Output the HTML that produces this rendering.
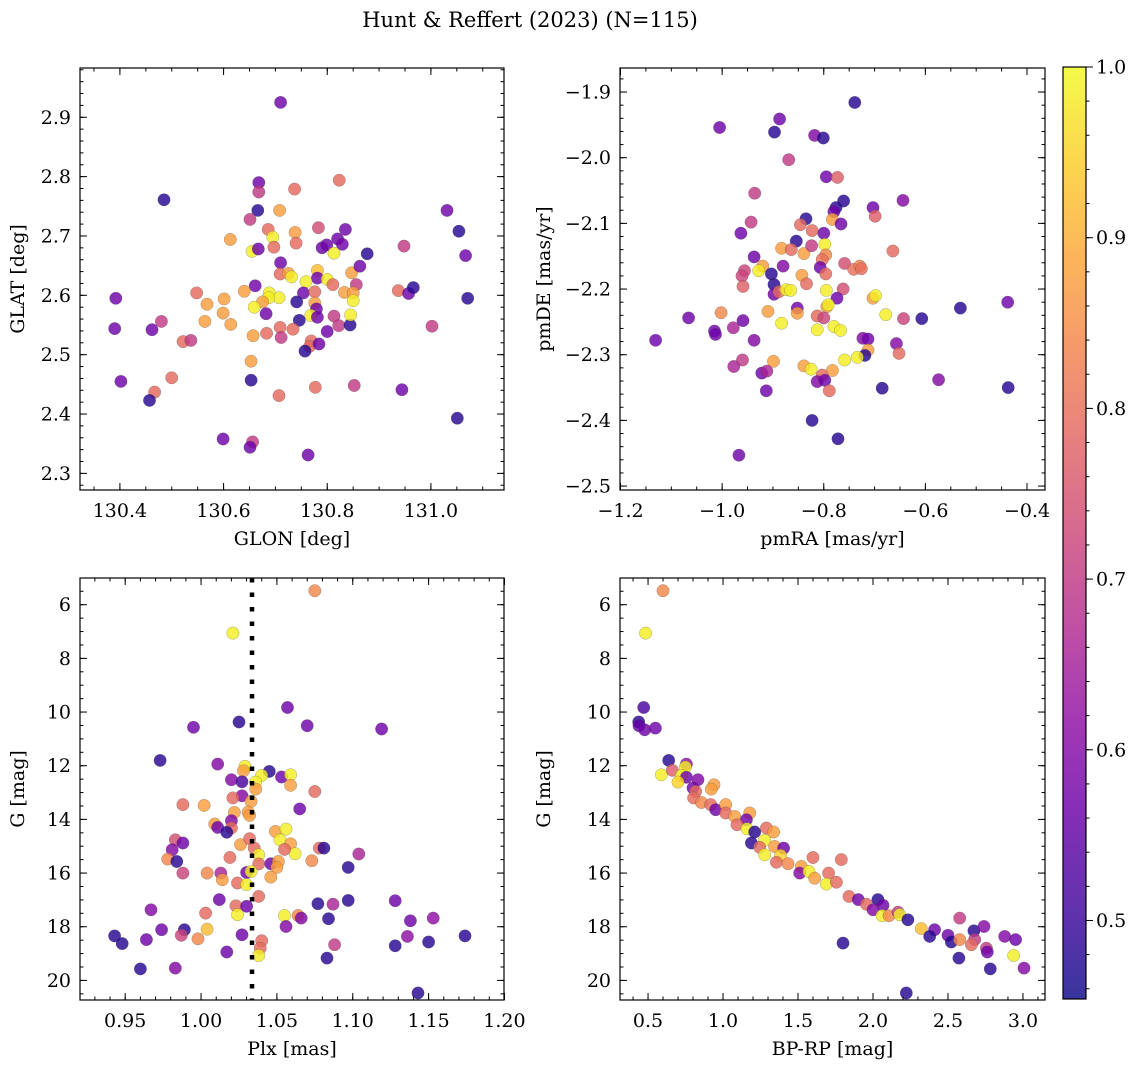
<!DOCTYPE html>
<html><head><meta charset="utf-8"><style>
html,body{margin:0;padding:0;background:#fff;}
svg{display:block;font-family:"DejaVu Serif","Liberation Serif",serif;}
</style></head><body>
<svg id="fig" width="1136" height="1067" viewBox="0 0 1136 1067" xmlns="http://www.w3.org/2000/svg">
<text x="530" y="27" text-anchor="middle" font-size="21">Hunt &amp; Reffert (2023) (N=115)</text>
</svg>
<script>
// ---------- DATA ----------
const glon=[130.710,130.485,130.668,130.823,130.668,130.737,130.666,130.708,130.651,131.031,131.054,131.067,131.071,130.392,130.390,130.613,130.686,130.695,130.655,130.667,130.697,130.738,130.740,130.783,130.790,130.799,130.820,130.829,130.835,130.813,130.877,130.948,130.710,130.709,130.725,130.731,130.781,130.781,130.759,130.800,130.811,130.847,130.863,130.856,130.661,130.640,130.688,130.707,130.687,130.754,130.741,130.776,130.833,130.850,130.850,130.937,130.957,130.966,130.548,130.568,130.601,130.599,130.564,130.614,130.675,130.659,130.682,130.776,130.779,130.768,130.781,130.746,130.813,130.822,130.844,130.845,130.480,130.462,130.522,130.537,130.657,130.683,130.709,130.711,130.734,130.800,130.769,130.766,130.784,130.757,131.002,130.653,130.653,130.402,130.500,130.467,130.457,130.777,130.852,130.944,130.707,131.051,130.599,130.656,130.651,130.763];
const glat=[2.925,2.761,2.790,2.794,2.774,2.779,2.743,2.743,2.728,2.743,2.708,2.667,2.595,2.595,2.544,2.694,2.711,2.698,2.674,2.678,2.681,2.706,2.688,2.714,2.680,2.685,2.695,2.686,2.711,2.671,2.670,2.683,2.655,2.636,2.637,2.631,2.642,2.629,2.623,2.627,2.618,2.638,2.649,2.618,2.616,2.607,2.604,2.596,2.596,2.604,2.589,2.606,2.605,2.604,2.591,2.608,2.603,2.613,2.604,2.585,2.594,2.570,2.556,2.551,2.589,2.580,2.569,2.587,2.577,2.566,2.563,2.558,2.565,2.549,2.550,2.567,2.556,2.542,2.522,2.524,2.532,2.536,2.546,2.529,2.543,2.539,2.523,2.514,2.518,2.506,2.548,2.489,2.457,2.455,2.461,2.437,2.423,2.445,2.448,2.441,2.431,2.393,2.358,2.353,2.344,2.331];
const prob1=[0.57,0.48,0.57,0.79,0.70,0.79,0.48,0.875,0.70,0.57,0.48,0.57,0.48,0.57,0.57,0.875,0.79,0.985,0.985,0.57,0.79,0.875,0.79,0.74,0.57,0.57,0.57,0.57,0.57,0.985,0.48,0.70,0.57,0.79,0.875,0.985,0.92,0.57,0.985,0.985,0.79,0.875,0.57,0.70,0.57,0.875,0.985,0.985,0.985,0.57,0.48,0.79,0.875,0.875,0.985,0.79,0.57,0.48,0.79,0.875,0.875,0.875,0.875,0.875,0.875,0.985,0.57,0.875,0.57,0.985,0.57,0.48,0.70,0.70,0.48,0.985,0.70,0.57,0.79,0.70,0.875,0.79,0.79,0.70,0.79,0.57,0.79,0.79,0.57,0.48,0.70,0.875,0.48,0.57,0.79,0.79,0.48,0.79,0.70,0.57,0.79,0.48,0.57,0.70,0.57,0.57];
const pmra=[-0.739,-1.005,-0.887,-0.897,-0.818,-0.801,-0.869,-0.795,-0.773,-0.936,-0.761,-0.776,-0.780,-0.703,-0.699,-0.644,-0.943,-0.963,-0.835,-0.846,-0.823,-0.783,-0.766,-0.800,-0.854,-0.883,-0.864,-0.839,-0.824,-0.798,-0.796,-0.664,-0.937,-0.920,-0.928,-0.956,-0.961,-0.959,-0.903,-0.880,-0.843,-0.834,-0.803,-0.807,-0.796,-0.759,-0.741,-0.729,-0.726,-0.898,-0.898,-0.888,-0.874,-0.865,-0.795,-0.762,-0.774,-0.794,-0.791,-0.703,-0.698,-0.678,-0.643,-0.607,-0.531,-0.438,-1.066,-1.131,-1.002,-1.015,-1.013,-0.978,-0.959,-0.937,-0.910,-0.883,-0.852,-0.852,-0.813,-0.800,-0.813,-0.780,-0.767,-0.723,-0.713,-0.713,-0.719,-0.657,-0.652,-0.759,-0.734,-0.960,-0.977,-0.899,-0.922,-0.912,-0.839,-0.825,-0.783,-0.803,-0.813,-0.798,-0.789,-0.913,-0.685,-0.574,-0.437,-0.823,-0.772,-0.967];
const pmde=[-1.916,-1.954,-1.941,-1.961,-1.966,-1.970,-2.003,-2.029,-2.030,-2.054,-2.066,-2.076,-2.082,-2.076,-2.089,-2.065,-2.098,-2.115,-2.093,-2.102,-2.111,-2.094,-2.101,-2.115,-2.127,-2.138,-2.140,-2.146,-2.134,-2.132,-2.148,-2.142,-2.151,-2.165,-2.172,-2.172,-2.180,-2.196,-2.177,-2.165,-2.179,-2.192,-2.155,-2.167,-2.177,-2.161,-2.170,-2.165,-2.169,-2.193,-2.208,-2.204,-2.201,-2.202,-2.202,-2.200,-2.214,-2.227,-2.224,-2.214,-2.210,-2.239,-2.245,-2.245,-2.229,-2.220,-2.244,-2.278,-2.236,-2.264,-2.269,-2.259,-2.248,-2.278,-2.234,-2.252,-2.229,-2.237,-2.241,-2.244,-2.262,-2.257,-2.263,-2.275,-2.276,-2.293,-2.301,-2.283,-2.298,-2.308,-2.304,-2.308,-2.318,-2.310,-2.328,-2.325,-2.317,-2.322,-2.324,-2.331,-2.341,-2.339,-2.355,-2.355,-2.351,-2.338,-2.350,-2.400,-2.428,-2.453];
const prob2=[0.48,0.57,0.57,0.48,0.60,0.48,0.70,0.57,0.77,0.70,0.48,0.48,0.57,0.57,0.77,0.60,0.70,0.57,0.48,0.79,0.79,0.875,0.57,0.57,0.48,0.875,0.79,0.875,0.70,0.985,0.84,0.79,0.57,0.875,0.985,0.72,0.72,0.77,0.48,0.60,0.875,0.79,0.80,0.57,0.79,0.74,0.80,0.83,0.80,0.48,0.57,0.79,0.985,0.985,0.985,0.74,0.57,0.875,0.985,0.875,0.985,0.985,0.72,0.48,0.48,0.57,0.57,0.57,0.84,0.57,0.57,0.66,0.57,0.60,0.875,0.985,0.57,0.875,0.79,0.72,0.985,0.985,0.985,0.60,0.57,0.875,0.48,0.60,0.79,0.985,0.985,0.70,0.66,0.875,0.57,0.66,0.875,0.985,0.875,0.79,0.60,0.57,0.79,0.57,0.48,0.60,0.48,0.48,0.48,0.57];
const plx=[1.075,1.021,1.057,1.025,0.995,1.070,1.119,0.973,1.011,1.029,1.028,1.045,1.040,1.053,1.059,1.020,1.027,1.036,1.036,1.059,1.075,1.027,1.021,1.033,0.988,1.002,1.065,1.022,1.031,1.032,1.020,1.009,1.011,1.020,1.017,1.049,1.056,1.052,1.059,1.062,0.983,0.988,0.981,0.978,0.984,0.988,1.026,1.032,1.035,1.038,1.038,1.019,1.055,1.078,1.081,1.073,1.104,1.097,1.046,1.051,1.050,1.046,1.004,1.013,1.014,1.030,1.033,1.024,1.030,1.038,1.012,1.023,1.030,1.024,1.003,0.967,1.077,1.087,1.097,1.128,1.055,1.064,1.066,1.084,1.138,1.153,1.056,1.004,0.989,0.987,0.974,0.964,0.943,0.948,0.998,1.027,1.040,1.039,1.038,1.017,1.088,1.083,1.136,1.128,1.150,1.174,0.960,0.983,1.143];
const gmag3=[5.48,7.06,9.83,10.37,10.57,10.51,10.63,11.80,11.94,12.02,12.19,12.21,12.36,12.42,12.34,12.52,12.60,12.61,12.87,12.73,12.96,13.12,13.20,13.33,13.45,13.48,13.61,13.74,13.73,13.85,14.05,14.17,14.30,14.32,14.48,14.45,14.36,14.76,14.91,15.28,14.76,14.88,15.13,15.48,15.57,16.00,14.94,14.72,15.07,15.32,15.66,15.42,15.12,15.07,15.07,15.54,15.29,15.79,15.65,15.57,15.79,16.15,16.00,16.00,16.25,15.98,15.94,16.37,16.43,16.87,16.99,17.22,17.24,17.55,17.49,17.37,17.14,17.16,17.02,17.03,17.58,17.58,17.68,17.70,17.78,17.68,17.99,18.09,18.11,18.32,18.11,18.48,18.34,18.63,18.45,18.30,18.52,18.80,19.07,18.94,18.67,19.17,18.36,18.71,18.57,18.34,19.57,19.54,20.47];
const prob3=[0.84,0.985,0.57,0.48,0.57,0.57,0.57,0.48,0.60,0.985,0.875,0.48,0.985,0.57,0.985,0.60,0.52,0.985,0.875,0.875,0.79,0.60,0.79,0.875,0.79,0.875,0.57,0.875,0.875,0.875,0.60,0.875,0.57,0.79,0.48,0.875,0.985,0.985,0.875,0.985,0.74,0.57,0.60,0.84,0.48,0.72,0.875,0.79,0.79,0.985,0.79,0.79,0.79,0.79,0.48,0.84,0.66,0.48,0.57,0.875,0.875,0.875,0.84,0.66,0.875,0.57,0.985,0.79,0.985,0.79,0.57,0.79,0.57,0.985,0.79,0.60,0.48,0.66,0.48,0.57,0.985,0.84,0.60,0.48,0.57,0.62,0.60,0.92,0.48,0.72,0.57,0.57,0.48,0.48,0.84,0.57,0.79,0.79,0.985,0.57,0.70,0.48,0.62,0.48,0.48,0.48,0.48,0.60,0.48];
const bprp=[0.600,0.484,0.471,0.438,0.440,0.478,0.549,0.638,0.589,0.662,0.756,0.749,0.722,0.756,0.700,0.833,0.940,0.922,0.800,0.818,0.804,0.856,0.918,0.951,1.018,1.018,1.078,1.178,1.156,1.093,1.160,1.211,1.289,1.338,1.278,1.189,1.244,1.344,1.404,1.278,1.384,1.356,1.433,1.600,1.789,1.522,1.511,1.573,1.611,1.704,1.689,1.756,1.840,1.902,1.956,2.033,2.067,2.000,2.060,2.107,2.167,2.178,2.233,2.322,2.411,2.378,2.500,2.522,2.578,2.578,2.673,2.678,2.656,2.740,2.756,2.762,2.573,2.782,2.878,2.951,2.938,3.007,1.800,2.222];
const gmag4=[5.48,7.06,9.83,10.37,10.51,10.66,10.60,11.80,12.34,12.17,11.94,12.05,12.37,12.43,12.61,12.52,12.71,12.87,12.83,12.96,13.20,13.37,13.45,13.64,13.45,13.76,13.89,13.76,14.01,14.20,14.35,14.47,14.32,14.47,14.78,14.88,15.04,15.01,15.07,15.32,15.34,15.60,15.65,15.42,15.50,15.75,16.00,15.94,16.19,16.00,16.41,16.34,16.87,16.99,17.16,16.99,17.20,17.37,17.59,17.59,17.46,17.55,17.74,18.07,18.11,18.36,18.32,18.57,17.68,18.48,18.15,18.48,18.67,17.99,18.80,18.94,19.17,19.57,18.36,18.48,19.07,19.54,18.61,20.47];
const prob4=[0.84,0.985,0.52,0.48,0.55,0.57,0.57,0.48,0.985,0.77,0.62,0.985,0.985,0.57,0.95,0.60,0.875,0.875,0.57,0.79,0.79,0.84,0.79,0.57,0.875,0.79,0.875,0.875,0.57,0.79,0.985,0.48,0.79,0.875,0.985,0.48,0.79,0.875,0.57,0.985,0.95,0.79,0.84,0.79,0.79,0.875,0.60,0.985,0.875,0.79,0.985,0.79,0.79,0.57,0.79,0.48,0.57,0.60,0.985,0.84,0.70,0.985,0.48,0.92,0.57,0.48,0.57,0.48,0.70,0.84,0.48,0.70,0.79,0.60,0.70,0.57,0.48,0.48,0.60,0.57,0.985,0.60,0.48,0.48];
const ticks1x=[130.4,130.6,130.8,131.0], ticks1y=[2.3,2.4,2.5,2.6,2.7,2.8,2.9];
const ticks2x=[-1.2,-1.0,-0.8,-0.6,-0.4], ticks2y=[-2.5,-2.4,-2.3,-2.2,-2.1,-2.0,-1.9];
const ticks3x=[0.95,1.00,1.05,1.10,1.15,1.20], ticksG=[6,8,10,12,14,16,18,20];
const ticks4x=[0.5,1.0,1.5,2.0,2.5,3.0];
const cbarTicks=[0.5,0.6,0.7,0.8,0.9,1.0];
const plxLine=1.0336;
const cmin=0.454, cmax=1.0;

// ---------- DRAWING ----------
const NS='http://www.w3.org/2000/svg';
const svg=document.getElementById('fig');
const FS=19;
function mk(tag,attrs,parent){const e=document.createElementNS(NS,tag);for(const k in attrs)e.setAttribute(k,attrs[k]);(parent||svg).appendChild(e);return e;}
const plasma=[[13,8,135],[65,4,157],[106,0,168],[143,13,164],[177,42,144],[204,71,120],[225,100,98],[242,132,75],[252,166,54],[252,206,37],[240,249,33]];
function cmap(v){let t=(v-cmin)/(cmax-cmin);t=Math.max(0,Math.min(1,t));const f=t*10,i=Math.min(9,Math.floor(f)),r=f-i;const a=plasma[i],b=plasma[i+1];return 'rgb('+a.map((c,k)=>Math.round(c+(b[k]-c)*r)).join(',')+')';}
function fmt(v,d){const s=Math.abs(v).toFixed(d);return (v<0?'\u2212':'')+s;}

const panels=[
 {id:'glon-glat',L:80,T:68,R:504,B:490,x0:130.323,x1:131.141,y0:2.272,y1:2.983,xs:glon,ys:glat,cs:prob1,xt:ticks1x,yt:ticks1y,xd:1,yd:1,xm:0.05,ym:0.02,xl:'GLON [deg]',yl:'GLAT [deg]'},
 {id:'pmra-pmde',L:620,T:68,R:1045,B:490,x0:-1.201,x1:-0.3646,y0:-2.506,y1:-1.8634,xs:pmra,ys:pmde,cs:prob2,xt:ticks2x,yt:ticks2y,xd:1,yd:1,xm:0.05,ym:0.02,xl:'pmRA [mas/yr]',yl:'pmDE [mas/yr]'},
 {id:'plx-g',L:80,T:578,R:504,B:1000,x0:0.9202,x1:1.1997,y0:20.73,y1:5.005,xs:plx,ys:gmag3,cs:prob3,xt:ticks3x,yt:ticksG,xd:2,yd:0,xm:0.01,ym:0.5,xl:'Plx [mas]',yl:'G [mag]'},
 {id:'bprp-g',L:620,T:578,R:1045,B:1000,x0:0.313,x1:3.147,y0:20.73,y1:5.005,xs:bprp,ys:gmag4,cs:prob4,xt:ticks4x,yt:ticksG,xd:1,yd:0,xm:0.1,ym:0.5,xl:'BP-RP [mag]',yl:'G [mag]'}
];
const defs=mk('defs',{});
panels.forEach((p,pi)=>{
 const sx=v=>p.L+(v-p.x0)/(p.x1-p.x0)*(p.R-p.L);
 const sy=v=>p.B-(v-p.y0)/(p.y1-p.y0)*(p.B-p.T);
 const cp=mk('clipPath',{id:'clip'+pi},defs);mk('rect',{x:p.L,y:p.T,width:p.R-p.L,height:p.B-p.T},cp);
 const g=mk('g',{});
 
 
 const pts=mk('g',{'clip-path':'url(#clip'+pi+')'},g);
 
 
 for(let i=0;i<p.xs.length;i++){
  const c=mk('circle',{cx:sx(p.xs[i]).toFixed(1),cy:sy(p.ys[i]).toFixed(1),r:6.2,fill:cmap(p.cs[i]),'fill-opacity':0.82,stroke:'rgba(70,70,70,0.45)','stroke-width':0.5},pts);
  
  
 }
 if(pi===2){
  const ln=mk('line',{x1:sx(plxLine),x2:sx(plxLine),y1:p.T,y2:p.B,stroke:'#000','stroke-width':4.5,'stroke-dasharray':'4.5 10'},g);
  
  
 }
 const tk=mk('g',{stroke:'#000','stroke-width':1},g);
 
 
 const lo=Math.min(p.x0,p.x1),hi=Math.max(p.x0,p.x1);
 for(let k=Math.ceil(lo/p.xm-1e-6);k*p.xm<=hi+1e-9;k++){const v=k*p.xm,x=sx(v);if(x<p.L-0.1||x>p.R+0.1)continue;
  mk('line',{x1:x,x2:x,y1:p.B,y2:p.B-3.5},tk);mk('line',{x1:x,x2:x,y1:p.T,y2:p.T+3.5},tk);}
 const ylo=Math.min(p.y0,p.y1),yhi=Math.max(p.y0,p.y1);
 for(let k=Math.ceil(ylo/p.ym-1e-6);k*p.ym<=yhi+1e-9;k++){const v=k*p.ym,y=sy(v);
  mk('line',{x1:p.L,x2:p.L+3.5,y1:y,y2:y},tk);mk('line',{x1:p.R,x2:p.R-3.5,y1:y,y2:y},tk);}
 p.xt.forEach(v=>{const x=sx(v);mk('line',{x1:x,x2:x,y1:p.B,y2:p.B-7},tk);mk('line',{x1:x,x2:x,y1:p.T,y2:p.T+7},tk);
  const t=mk('text',{x:x,y:p.B+27,'text-anchor':'middle','font-size':FS},g);t.textContent=fmt(v,p.xd);
  
  });
 p.yt.forEach(v=>{const y=sy(v);mk('line',{x1:p.L,x2:p.L+7,y1:y,y2:y},tk);mk('line',{x1:p.R,x2:p.R-7,y1:y,y2:y},tk);
  const t=mk('text',{x:p.L-9,y:y+6.5,'text-anchor':'end','font-size':FS},g);t.textContent=fmt(v,p.yd);
  
  });
 const fr=mk('rect',{x:p.L,y:p.T,width:p.R-p.L,height:p.B-p.T,fill:'none',stroke:'#000','stroke-width':1.2},g);
 
 
 const xl=mk('text',{x:(p.L+p.R)/2,y:p.B+55,'text-anchor':'middle','font-size':FS},g);xl.textContent=p.xl;
 
 
 const ylx=(pi%2===0)?24:550;
 const yl=mk('text',{x:ylx,y:(p.T+p.B)/2,'text-anchor':'middle','font-size':FS,transform:'rotate(-90 '+ylx+' '+(p.T+p.B)/2+')'},g);yl.textContent=p.yl;
 
 
});
const cb={L:1063,R:1086,T:67,B:999};
const lg=mk('linearGradient',{id:'cbg',x1:0,y1:1,x2:0,y2:0},defs);
plasma.forEach((c,i)=>mk('stop',{offset:(i/10),'stop-color':'rgb('+c.join(',')+')'},lg));
const cbg=mk('g',{});


mk('rect',{x:cb.L,y:cb.T,width:cb.R-cb.L,height:cb.B-cb.T,fill:'url(#cbg)','fill-opacity':0.82},cbg);
mk('rect',{x:cb.L,y:cb.T,width:cb.R-cb.L,height:cb.B-cb.T,fill:'none',stroke:'#000','stroke-width':1.2},cbg);
const cy=v=>cb.B-(v-cmin)/(cmax-cmin)*(cb.B-cb.T);
for(let k=23;k<=50;k++){const v=k*0.02;if(v<cmin)continue;const y=cy(v);mk('line',{x1:cb.R,x2:cb.R+3.5,y1:y,y2:y,stroke:'#000'},cbg);}
cbarTicks.forEach(v=>{const y=cy(v);mk('line',{x1:cb.R,x2:cb.R+7,y1:y,y2:y,stroke:'#000'},cbg);
 const t=mk('text',{x:cb.R+10,y:y+6.5,'font-size':FS},cbg);t.textContent=v.toFixed(1);
 
 });
</script>
</body></html>
